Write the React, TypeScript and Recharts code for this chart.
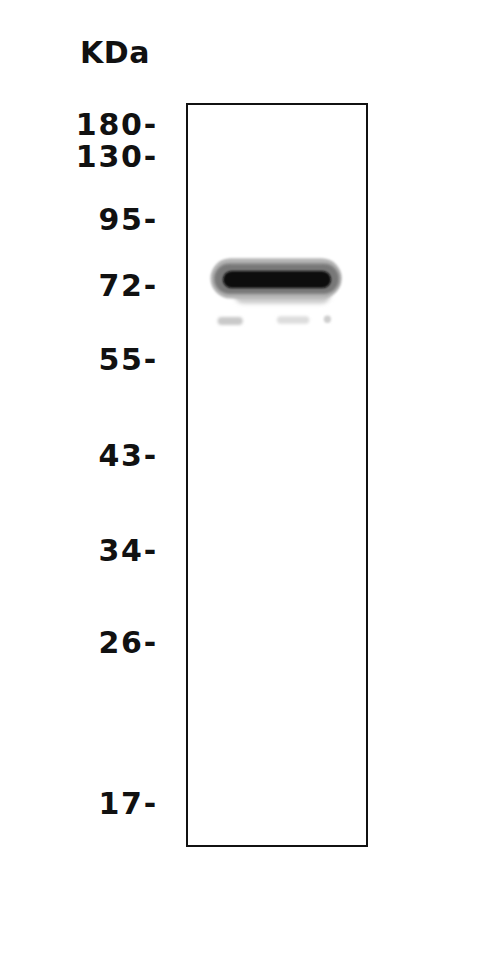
import { ComposedChart, XAxis, YAxis, ReferenceArea, Scatter } from 'recharts';

// molecular weight ladder (kDa) and where each marker ran, as % of gel length
const markerKDa = [180, 130, 95, 72, 55, 43, 34, 26, 17];
const markerMigration = [2.7, 7.1, 15.5, 24.4, 34.4, 47.4, 60.2, 72.5, 94.3];

// band signal in the single lane: lane span (0-1), migration span (%), intensity (0-1)
// order: smear under the band, halo, inner halo, core, then the faint lower bands
const bandLaneFrom = [0.26, 0.13, 0.15, 0.2, 0.17, 0.5, 0.76];
const bandLaneTo = [0.8, 0.86, 0.845, 0.8, 0.31, 0.68, 0.8];
const bandMigFrom = [24.2, 20.8, 21.5, 22.5, 28.7, 28.6, 28.5];
const bandMigTo = [26.9, 26.2, 25.6, 24.8, 29.8, 29.6, 29.5];
const bandIntensity = [0.22, 0.3, 0.55, 1, 0.22, 0.14, 0.2];
const bandBlur = [2, 1.2, 1.5, 1.2, 1.5, 1.5, 1];

const ladder = markerKDa.map((kda, i) => ({ lane: 0, mig: markerMigration[i], kda }));

const labelFor = (mig: number) => {
  const i = markerMigration.indexOf(mig);
  return i >= 0 ? `${markerKDa[i]}-` : '';
};

const fontStyle = {
  fontFamily: '"DejaVu Sans", Verdana, sans-serif',
  fontWeight: 700,
  fontSize: 30,
  letterSpacing: 1.8,
  fill: '#111',
};

const MarkerTick = (props: any) => {
  const { x, y, payload } = props;
  return (
    <text x={x} y={y} dy="0.355em" textAnchor="end" style={fontStyle}>
      {labelFor(payload.value)}
    </text>
  );
};

const bandShape = (idx: number) => (props: any) => {
  const { x, y, width, height } = props;
  const g = Math.round(255 * (1 - bandIntensity[idx] * 0.96));
  const id = `blur-${idx}`;
  return (
    <g>
      <defs>
        <filter id={id} x="-20%" y="-80%" width="140%" height="260%">
          <feGaussianBlur stdDeviation={bandBlur[idx]} />
        </filter>
      </defs>
      <rect x={x} y={y} width={width} height={height} rx={height / 2} ry={height / 2}
        fill={`rgb(${g},${g},${g})`} filter={`url(#${id})`} />
    </g>
  );
};

export default function App() {
  return (
    <ComposedChart width={484} height={944} data={ladder} margin={{ top: 96, right: 125, bottom: 106, left: 0 }}>
      <XAxis type="number" dataKey="lane" domain={[0, 1]} allowDataOverflow hide />
      <YAxis
        type="number"
        dataKey="mig"
        domain={[0, 100]}
        allowDataOverflow
        reversed
        width={179}
        ticks={markerMigration}
        interval={0}
        axisLine={false}
        tickLine={false}
        tickSize={0}
        tickMargin={29}
        tick={<MarkerTick />}
      />
      <Scatter dataKey="mig" fill="none" shape={() => <g />} isAnimationActive={false} />
      {bandIntensity.map((_, i) => (
        <ReferenceArea
          key={i}
          x1={bandLaneFrom[i]}
          x2={bandLaneTo[i]}
          y1={bandMigFrom[i]}
          y2={bandMigTo[i]}
          shape={bandShape(i)}
        />
      ))}
      <ReferenceArea x1={0} x2={1} y1={0} y2={100} fill="none" fillOpacity={0} stroke="#111" strokeWidth={2} strokeOpacity={1} />
      <text x={72} y={55} style={{ ...fontStyle, letterSpacing: 0.5 }}>KDa</text>
    </ComposedChart>
  );
}
